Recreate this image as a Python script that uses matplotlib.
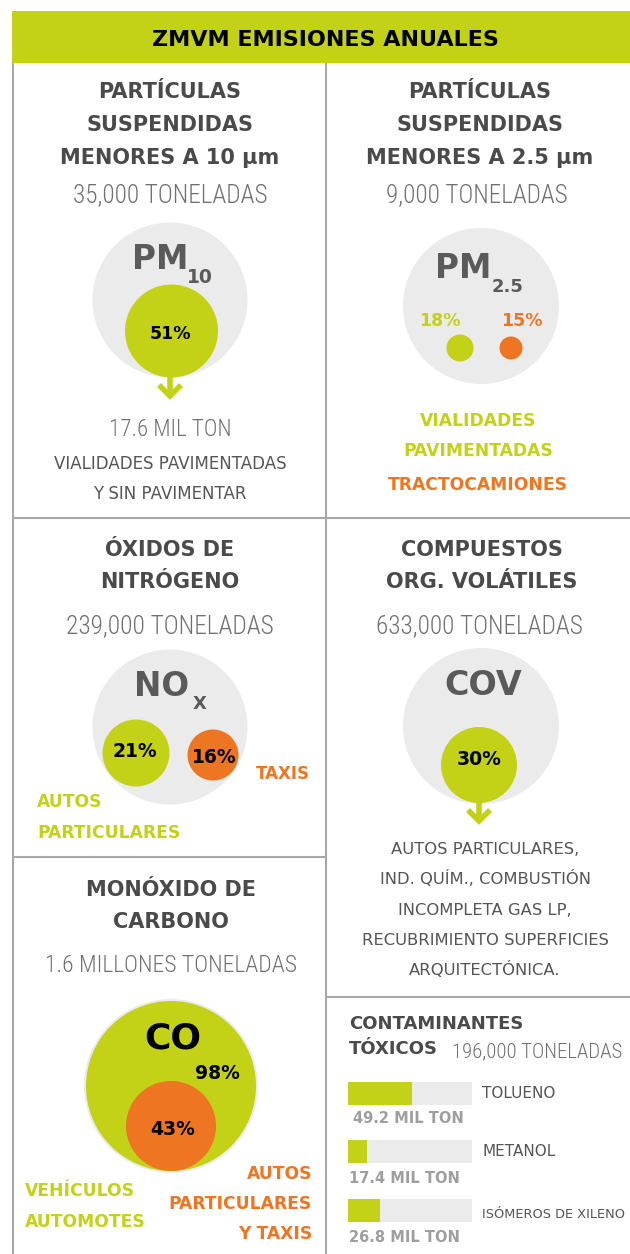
import os
import matplotlib
matplotlib.use("Agg")
import matplotlib.pyplot as plt
from matplotlib.patches import Circle, Rectangle
from matplotlib import font_manager as fm

# ---------------- data ----------------
header = "ZMVM EMISIONES ANUALES"
pm10_title = ["PARTÍCULAS", "SUSPENDIDAS", "MENORES A 10 µm"]
pm10_total = "35,000 TONELADAS"
pm10_share = 51
pm10_amount = "17.6 MIL TON"
pm10_source = ["VIALIDADES PAVIMENTADAS", "Y SIN PAVIMENTAR"]

pm25_title = ["PARTÍCULAS", "SUSPENDIDAS", "MENORES A 2.5 µm"]
pm25_total = "9,000 TONELADAS"
pm25_shares = [18, 15]
pm25_sources = ["VIALIDADES", "PAVIMENTADAS", "TRACTOCAMIONES"]

nox_title = ["ÓXIDOS DE", "NITRÓGENO"]
nox_total = "239,000 TONELADAS"
nox_shares = [21, 16]
nox_sources = ["AUTOS", "PARTICULARES", "TAXIS"]

cov_title = ["COMPUESTOS", "ORG. VOLÁTILES"]
cov_total = "633,000 TONELADAS"
cov_share = 30
cov_source = ["AUTOS PARTICULARES,", "IND. QUÍM., COMBUSTIÓN", "INCOMPLETA GAS LP,",
              "RECUBRIMIENTO SUPERFICIES", "ARQUITECTÓNICA."]

co_title = ["MONÓXIDO DE", "CARBONO"]
co_total = "1.6 MILLONES TONELADAS"
co_shares = [98, 43]
co_sources_all = ["VEHÍCULOS", "AUTOMOTES"]
co_sources_sub = ["AUTOS", "PARTICULARES", "Y TAXIS"]

tox_title = ["CONTAMINANTES", "TÓXICOS"]
tox_total = "196,000 TONELADAS"
tox_names = ["TOLUENO", "METANOL", "ISÓMEROS DE XILENO"]
tox_values = [49.2, 17.4, 26.8]
tox_fill = [0.52, 0.15, 0.26]   # filled fraction of each bar as drawn

# ---------------- style ----------------
GREEN = "#C3D117"
ORANGE = "#EE7623"
LIGHT = "#EBEBEB"
DARK = "#4A4A4A"
TON = "#707070"
BODY = "#555555"
LINE = "#A8A8A8"
SYM = "#5A5A5A"


def find_condensed():
    prefs = ["NotoSans-ExtraCondensedLight", "NotoSans-CondensedLight",
             "NotoSans-ExtraCondensed.", "NotoSans-Condensed.",
             "LiberationSansNarrow-Regular", "RobotoCondensed-Light",
             "RobotoCondensed-Regular", "Roboto_Condensed-Light",
             "OpenSans-CondensedLight", "OpenSans_Condensed-Light",
             "DejaVuSansCondensed."]
    files = set(f.fname for f in fm.fontManager.ttflist)
    try:
        files |= set(fm.findSystemFonts())
    except Exception:
        pass
    files = sorted(files)
    for p in prefs:
        for f in files:
            if os.path.basename(f).startswith(p):
                return f
    return None


COND = find_condensed()

W, H = 630, 1254
PX = 100 / 72.0
fig = plt.figure(figsize=(W / 100, H / 100), dpi=100)
ax = fig.add_axes([0, 0, 1, 1])
ax.set_xlim(0, W)
ax.set_ylim(H, 0)
ax.axis("off")
renderer = fig.canvas.get_renderer()


def T(x, y, s, size, color, weight="normal", ha="center", family="DejaVu Sans", cap=0.73):
    return ax.text(x, y + 0.5 * cap * size * PX, s, fontsize=size, color=color,
                   fontweight=weight, ha=ha, va="baseline", family=family)


def ton(x, y, s, width, cap_px=23, ha="center"):
    """Condensed light text: sized to match the reference cap height, shrunk to its width."""
    if COND:
        fp = fm.FontProperties(fname=COND)
    else:
        fp = fm.FontProperties(family="DejaVu Sans", weight="light")
    size = cap_px / (0.714 * PX)
    fp.set_size(size)
    t = ax.text(x, y, s, fontproperties=fp, color=TON, ha=ha, va="baseline")
    w = t.get_window_extent(renderer).width
    if w > width:
        size *= width / w
    fp2 = fp.copy()
    fp2.set_size(size)
    t.set_fontproperties(fp2)
    t.set_y(y + 0.5 * 0.714 * size * PX)
    return t


def disc(x, y, r, color, z=2):
    ax.add_patch(Circle((x, y), r, facecolor=color, edgecolor="none", zorder=z))


def arrow(x, y0, y1):
    ax.plot([x, x], [y0, y1 - 3], color=GREEN, lw=4, solid_capstyle="butt", zorder=3)
    ax.plot([x - 11, x, x + 11], [y1 - 13, y1 - 2, y1 - 13], color=GREEN, lw=4,
            solid_joinstyle="miter", solid_capstyle="butt", zorder=3)


def pct(v):
    return f"{v}%"


# header
ax.add_patch(Rectangle((12, 11), W - 12, 52, facecolor=GREEN, edgecolor="none"))
T(325, 38, header, 16, "black", weight="bold")

# grid lines
lk = dict(color=LINE, lw=1.5, solid_capstyle="butt", zorder=1)
ax.plot([13, 13], [63, H], **lk)
ax.plot([326, 326], [63, H], **lk)
ax.plot([13, W], [518, 518], **lk)
ax.plot([13, 326], [857, 857], **lk)
ax.plot([326, W], [997, 997], **lk)

# ---- PM10 ----
cx = 170
for i, s in enumerate(pm10_title):
    T(cx, 90 + 33 * i, s, 15, DARK, weight="bold")
ton(cx, 193, pm10_total, 195)
disc(170, 300, 77.5, LIGHT, 1)
T(160, 257, "PM", 23.5, SYM, weight="bold")
T(200, 276, "10", 13.5, SYM, weight="bold")
disc(171.5, 331, 46.5, GREEN)
T(170, 332.5, pct(pm10_share), 12.5, "black", weight="bold")
arrow(170, 376, 398)
ton(cx, 428, pm10_amount, 123)
T(cx, 463, pm10_source[0], 12, BODY)
T(cx, 493, pm10_source[1], 12, BODY)

# ---- PM2.5 ----
cx = 480
for i, s in enumerate(pm25_title):
    T(cx, 90 + 33 * i, s, 15, DARK, weight="bold")
ton(477, 193, pm25_total, 182)
disc(481, 306, 78, LIGHT, 1)
T(463, 266, "PM", 23.5, SYM, weight="bold")
T(508, 285, "2.5", 13, SYM, weight="bold")
T(440, 320, pct(pm25_shares[0]), 12.5, GREEN, weight="bold")
T(522, 320, pct(pm25_shares[1]), 12.5, ORANGE, weight="bold")
disc(460, 348, 13.5, GREEN)
disc(511, 348, 11.5, ORANGE)
T(478, 420, pm25_sources[0], 12.3, GREEN, weight="bold")
T(478, 450, pm25_sources[1], 12.3, GREEN, weight="bold")
T(478, 484, pm25_sources[2], 12.3, ORANGE, weight="bold")

# ---- NOx ----
cx = 170
for i, s in enumerate(nox_title):
    T(cx, 548 + 32 * i, s, 15, DARK, weight="bold")
ton(cx, 624, nox_total, 208)
disc(170, 727, 77.5, LIGHT, 1)
T(162, 684, "NO", 23.5, SYM, weight="bold")
T(200, 702, "X", 13, SYM, weight="bold")
disc(136, 753, 33.5, GREEN)
disc(213, 755, 25.5, ORANGE)
T(135, 750, pct(nox_shares[0]), 13.5, "black", weight="bold")
T(214, 756, pct(nox_shares[1]), 13.5, "black", weight="bold")
T(283, 773, nox_sources[2], 12, ORANGE, weight="bold")
T(37, 801, nox_sources[0], 12.3, GREEN, weight="bold", ha="left")
T(37, 832, nox_sources[1], 12.3, GREEN, weight="bold", ha="left")

# ---- COV ----
cx = 482
for i, s in enumerate(cov_title):
    T(cx, 548 + 32 * i, s, 15, DARK, weight="bold")
ton(479, 624, cov_total, 208)
disc(481, 726, 78, LIGHT, 1)
T(483, 683, "COV", 24, SYM, weight="bold")
disc(479, 765, 38, GREEN)
T(479, 758, pct(cov_share), 13.5, "black", weight="bold")
arrow(479, 801, 823)
for i, s in enumerate(cov_source):
    T(485, 848 + 30.3 * i, s, 11.8, BODY)

# ---- CO ----
cx = 171
for i, s in enumerate(co_title):
    T(cx, 888 + 32 * i, s, 15, DARK, weight="bold")
ton(cx, 964, co_total, 253, cap_px=24)
disc(171, 1086, 87, LIGHT, 1)
disc(171, 1086, 85, GREEN)
T(173, 1035, "CO", 26, "black", weight="bold")
T(217, 1072, pct(co_shares[0]), 13.5, "black", weight="bold")
disc(171, 1126, 45, ORANGE, 3)
T(173, 1128, pct(co_shares[1]), 13.5, "black", weight="bold")
for i, s in enumerate(co_sources_all):
    T(25, 1190 + 31 * i, s, 12.3, GREEN, weight="bold", ha="left")
for i, s in enumerate(co_sources_sub):
    T(312, 1173 + 30 * i, s, 12.3, ORANGE, weight="bold", ha="right")

# ---- Toxics ----
T(349, 1022, tox_title[0], 13, DARK, weight="bold", ha="left")
T(349, 1047, tox_title[1], 13, DARK, weight="bold", ha="left")
ton(452, 1050, tox_total, 170, cap_px=20, ha="left")
bar_y = [1093.5, 1151.5, 1210.5]
bar_left, bar_w, bar_h = 348, 124, 23
ax.barh(bar_y, [bar_w] * 3, left=bar_left, height=bar_h, color=LIGHT, zorder=2)
ax.barh(bar_y, [f * bar_w for f in tox_fill], left=bar_left, height=bar_h, color=GREEN, zorder=3)
name_y = [1092, 1150, 1213]
name_sz = [11, 11, 9.3]
for n, y, sz in zip(tox_names, name_y, name_sz):
    T(482, y, n, sz, BODY, ha="left")
val_x = [353, 349, 349]
val_y = [1118, 1178, 1237]
for v, x, y in zip(tox_values, val_x, val_y):
    T(x, y, f"{v} MIL TON", 10.5, "#9E9E9E", weight="bold", ha="left")

fig.savefig("out.png", dpi=100)
